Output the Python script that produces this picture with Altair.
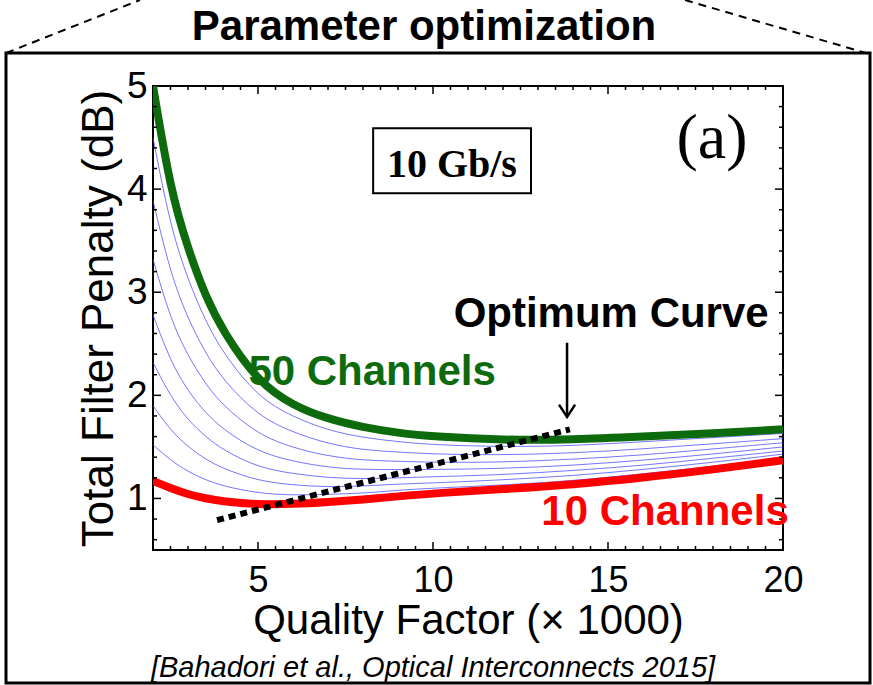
import altair as alt
import pandas as pd

# ---------------- data ----------------
Q = [2, 2.5, 3, 3.5, 4, 5, 6, 7, 8, 9, 10, 12, 14, 16, 18, 20]

ch50 = [5.00, 3.99, 3.42, 2.96, 2.62, 2.13, 1.90, 1.77, 1.69, 1.635, 1.60, 1.565, 1.57, 1.60, 1.63, 1.67]
ch45 = [4.50, 3.63, 3.12, 2.72, 2.41, 1.98, 1.79, 1.66, 1.59, 1.55, 1.52, 1.50, 1.51, 1.55, 1.59, 1.63]
ch40 = [3.89, 3.18, 2.74, 2.41, 2.15, 1.80, 1.64, 1.53, 1.47, 1.45, 1.43, 1.42, 1.44, 1.48, 1.53, 1.58]
ch35 = [3.32, 2.74, 2.38, 2.11, 1.90, 1.62, 1.49, 1.41, 1.37, 1.36, 1.35, 1.35, 1.38, 1.42, 1.48, 1.54]
ch30 = [2.78, 2.33, 2.04, 1.83, 1.67, 1.45, 1.36, 1.30, 1.28, 1.28, 1.28, 1.29, 1.32, 1.37, 1.43, 1.50]
ch25 = [2.32, 1.99, 1.76, 1.60, 1.47, 1.30, 1.24, 1.20, 1.19, 1.20, 1.21, 1.23, 1.27, 1.32, 1.39, 1.46]
ch20 = [1.90, 1.66, 1.50, 1.38, 1.29, 1.17, 1.13, 1.11, 1.12, 1.14, 1.15, 1.18, 1.22, 1.28, 1.35, 1.43]
ch15 = [1.52, 1.37, 1.26, 1.18, 1.12, 1.05, 1.03, 1.04, 1.05, 1.08, 1.10, 1.13, 1.17, 1.24, 1.31, 1.40]
ch10 = [1.17, 1.10, 1.04, 1.00, 0.97, 0.94, 0.945, 0.965, 0.99, 1.02, 1.05, 1.09, 1.135, 1.20, 1.28, 1.37]

blue_channels = [45, 40, 35, 30, 25, 20, 15]
blue_values = [ch45, ch40, ch35, ch30, ch25, ch20, ch15]

# optimum curve (dotted line) end points
opt_Q = [3.83, 13.91]
opt_P = [0.79, 1.67]

# tick labels
x_labels = [5, 10, 15, 20]
y_labels = [1, 2, 3, 4, 5]
x_minor = [2.5 + 0.5 * i for i in range(35) if (2.5 + 0.5 * i) not in (5, 10, 15, 20)]
y_minor = [round(0.6 + 0.2 * i, 1) for i in range(22) if round(0.6 + 0.2 * i, 1) not in (1.0, 2.0, 3.0, 4.0, 5.0)]

# ---------------- tables ----------------
blue_df = pd.DataFrame(
    [{"Q": q, "P": v, "N": n} for n, vals in zip(blue_channels, blue_values) for q, v in zip(Q, vals)]
)
green_df = pd.DataFrame({"Q": Q, "P": ch50})
red_df = pd.DataFrame({"Q": Q, "P": ch10})
opt_df = pd.DataFrame({"Q": opt_Q, "P": opt_P})

W, H = 630, 464
SANS = "Liberation Sans"
SERIF = "Liberation Serif"

xs = alt.Scale(domain=[2, 20], nice=False, zero=False)
ys = alt.Scale(domain=[0.5, 5], nice=False, zero=False)

x_axis = alt.Axis(
    values=x_labels, ticks=False, domain=False, grid=False,
    labelFont=SANS, labelFontSize=36, labelPadding=13, labelFlush=False,
    labelColor="black", labelOverlap=False,
    title="Quality Factor (× 1000)", titleFont=SANS, titleFontSize=42,
    titleFontWeight="normal", titleColor="black",
    titleX=W / 2, titleY=83, titleAlign="center", titleBaseline="alphabetic",
)
y_axis = alt.Axis(
    values=y_labels, ticks=False, domain=False, grid=False,
    labelFont=SANS, labelFontSize=37, labelPadding=6,
    labelColor="black", labelOverlap=False,
    title="Total Filter Penalty (dB)", titleFont=SANS, titleFontSize=44,
    titleFontWeight="normal", titleColor="black", titleAngle=270,
    titleX=-41, titleY=H / 2, titleAlign="center", titleBaseline="alphabetic",
)


def X(field="Q:Q"):
    return alt.X(field, scale=xs, axis=x_axis)


def Y(field="P:Q"):
    return alt.Y(field, scale=ys, axis=y_axis)


blue = alt.Chart(blue_df).mark_line(
    color="#4a4aff", strokeWidth=0.9, opacity=0.85, interpolate="basis", clip=True
).encode(x=X(), y=Y(), detail="N:N")

red = alt.Chart(red_df).mark_line(
    color="#ff0000", strokeWidth=8, interpolate="basis", clip=True
).encode(x=X(), y=Y())

green = alt.Chart(green_df).mark_line(
    color="#0d6b0d", strokeWidth=8, interpolate="basis", clip=True
).encode(x=X(), y=Y())

opt = alt.Chart(opt_df).mark_line(
    color="black", strokeWidth=6, strokeDash=[7, 5], strokeCap="butt"
).encode(x=X(), y=Y())


# ---------------- inward ticks on all four sides ----------------
def xticks(vals, y0, y1):
    return alt.Chart(pd.DataFrame({"Q": vals})).mark_rule(color="black", strokeWidth=1.5).encode(
        x=X(), y=alt.value(y0), y2=alt.value(y1)
    )


def yticks(vals, x0, x1):
    return alt.Chart(pd.DataFrame({"P": vals})).mark_rule(color="black", strokeWidth=1.5).encode(
        y=Y(), x=alt.value(x0), x2=alt.value(x1)
    )


ticks = [
    xticks([5, 10, 15], H, H - 8), xticks(x_minor, H, H - 4),
    xticks([5, 10, 15], 0, 8), xticks(x_minor, 0, 4),
    yticks([1, 2, 3, 4], 0, 8), yticks(y_minor, 0, 4),
    yticks([1, 2, 3, 4], W, W - 8), yticks(y_minor, W, W - 4),
]

# ---------------- annotations in data coordinates ----------------
one = pd.DataFrame({"a": [0]})


def label(text, q, p, size, color="black", weight="bold", font=SANS, style="normal"):
    return alt.Chart(pd.DataFrame({"Q": [q], "P": [p]})).mark_text(
        text=text, font=font, fontSize=size, fontWeight=weight, fontStyle=style,
        color=color, align="center", baseline="alphabetic"
    ).encode(x=X(), y=Y())


box = alt.Chart(pd.DataFrame({"Q": [8.29], "Q2": [12.8], "P": [4.59], "P2": [3.96]})).mark_rect(
    fill="white", stroke="black", strokeWidth=2
).encode(x=X(), x2="Q2:Q", y=Y(), y2="P2:Q")

arrow_shaft = alt.Chart(pd.DataFrame({"Q": [13.83], "P": [2.51], "P2": [1.80]})).mark_rule(
    color="black", strokeWidth=2.5
).encode(x=X(), y=Y(), y2="P2:Q")

arrow_head = alt.Chart(pd.DataFrame({"Q": [13.60, 13.83, 14.06], "P": [1.91, 1.79, 1.91], "o": [0, 1, 2]})).mark_line(
    color="black", strokeWidth=2.5
).encode(x=X(), y=Y(), order="o:Q")

annotations = [
    box,
    label("10 Gb/s", 10.54, 4.12, 40, font=SERIF),
    label("(a)", 17.97, 4.30, 64, weight="normal", font=SERIF),
    label("Optimum Curve", 15.09, 2.66, 42),
    label("50 Channels", 8.26, 2.10, 42, color="#0d6b0d"),
    label("10 Channels", 16.63, 0.74, 42, color="#ff0000"),
    arrow_shaft, arrow_head,
]

# ---------------- slide frame, title, citation (pixels from plot origin) ----------------
frame = alt.Chart(one).mark_rect(fill=None, stroke="black", strokeWidth=3).encode(
    x=alt.value(-147), x2=alt.value(717), y=alt.value(-33), y2=alt.value(597)
)
dash_left = alt.Chart(one).mark_rule(color="black", strokeWidth=2, strokeDash=[8, 6]).encode(
    x=alt.value(-147), y=alt.value(-33), x2=alt.value(-13), y2=alt.value(-86)
)
dash_right = alt.Chart(one).mark_rule(color="black", strokeWidth=2, strokeDash=[8, 6]).encode(
    x=alt.value(532), y=alt.value(-86), x2=alt.value(713), y2=alt.value(-33)
)
title = alt.Chart(one).mark_text(
    text="Parameter optimization", font=SANS, fontSize=42, fontWeight="bold",
    color="black", align="center", baseline="alphabetic"
).encode(x=alt.value(271), y=alt.value(-46))
cite = alt.Chart(one).mark_text(
    text="[Bahadori et al., Optical Interconnects 2015]", font=SANS, fontSize=29,
    fontStyle="italic", color="black", align="center", baseline="alphabetic"
).encode(x=alt.value(280), y=alt.value(591))

chart = alt.layer(
    blue, red, green, opt, *ticks, *annotations, frame, dash_left, dash_right, title, cite
).properties(
    width=W, height=H,
    autosize=alt.AutoSizeParams(type="none"),
    padding={"left": 153, "top": 86, "right": 90, "bottom": 135},
    background="white",
).configure_view(stroke="black", strokeWidth=2)

chart.save("out.html", embed_options={"renderer": "svg", "actions": False})
